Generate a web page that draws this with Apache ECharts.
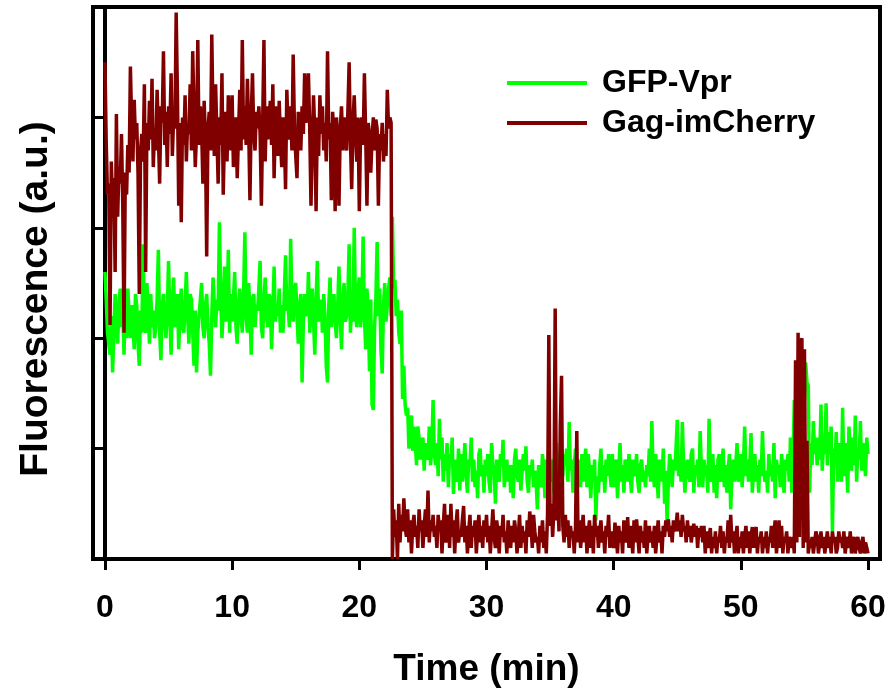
<!DOCTYPE html>
<html><head><meta charset="utf-8">
<script src="https://cdn.jsdelivr.net/npm/echarts@6/dist/echarts.min.js"></script>
<style>html,body{margin:0;padding:0;background:#fff}#c{width:891px;height:698px}</style>
</head><body><div id="c"></div>
<script>
// sampling grid (minutes)
const sampleStart = 0;
const sampleStep = 0.1;

// GFP-Vpr trace, values (a.u.), one row per minute
const gfpVpr = [
2.60,2.35,2.05,1.95,1.85,2.20,1.69,2.05,2.40,2.15,
1.95,2.30,2.45,2.10,2.25,1.85,2.35,2.00,2.45,2.20,
2.00,2.30,2.15,1.90,2.40,2.30,1.95,1.75,2.25,2.05,
2.85,2.15,2.05,2.50,2.25,1.95,2.40,2.10,2.25,2.00,
2.10,2.35,2.80,2.05,1.80,2.30,2.40,2.15,2.00,2.25,
2.70,2.20,1.85,2.35,2.55,2.10,2.15,2.40,1.90,2.25,
2.45,2.10,2.05,2.30,2.60,2.20,1.95,2.40,2.35,2.05,
1.75,2.25,1.69,2.05,2.20,2.35,2.50,2.10,2.00,2.30,
2.40,2.10,1.95,1.66,2.20,2.55,2.30,2.10,2.35,2.25,
3.05,2.40,2.00,2.25,2.65,2.15,2.30,2.80,2.05,2.40,
2.15,2.35,2.60,2.10,1.95,2.30,2.45,2.20,2.05,2.40,
2.96,2.20,2.05,2.50,2.25,1.85,2.35,2.40,2.10,2.30,
2.25,2.45,2.70,2.10,2.00,2.35,2.55,2.20,2.10,2.40,
2.35,1.90,2.25,2.65,2.15,2.30,2.20,2.45,2.05,2.30,
2.05,2.40,2.75,2.25,2.30,2.10,2.90,2.35,2.15,2.45,
2.50,2.20,1.95,2.30,2.40,1.60,2.15,2.40,2.25,2.20,
2.60,2.05,2.30,2.45,2.15,1.85,2.35,2.70,2.15,2.25,
2.35,2.05,2.40,2.20,1.75,1.60,2.30,2.55,2.10,2.25,
2.40,2.15,2.00,2.30,2.65,2.20,1.90,2.35,2.50,2.15,
2.20,2.40,2.85,2.05,2.30,2.15,3.00,2.25,2.10,2.45,
2.55,2.10,2.30,2.92,2.20,1.90,2.45,2.25,1.70,2.35,
1.40,1.35,2.10,2.35,2.87,2.20,2.45,1.90,1.68,2.30,
2.50,2.15,2.30,2.45,2.55,2.20,3.10,2.45,2.53,2.20,
2.35,2.05,1.95,2.25,1.45,1.75,1.40,1.30,1.37,1.00,
1.15,1.30,0.98,1.20,1.05,0.85,1.20,1.10,0.90,1.00,
1.10,0.80,1.05,0.95,0.90,1.20,0.85,1.00,1.44,0.95,
0.85,1.05,0.75,1.27,0.90,1.10,0.70,0.95,0.80,1.05,
0.65,0.95,0.85,1.10,0.59,0.90,0.80,0.70,1.00,0.62,
0.95,0.70,0.85,1.05,0.75,0.60,0.90,0.85,1.10,0.70,
0.90,0.65,0.80,0.55,0.95,1.00,0.75,0.85,0.60,0.90,
0.75,0.95,0.70,0.60,1.05,0.85,0.80,0.50,0.90,0.75,
0.70,0.95,0.85,1.08,0.65,0.80,0.90,0.70,0.85,0.60,
0.85,0.55,0.90,1.00,0.75,0.70,0.90,0.62,0.80,0.95,
0.80,1.02,0.70,0.60,0.85,0.75,0.90,0.65,0.80,0.70,
0.45,0.85,0.75,0.65,0.95,0.80,0.55,0.90,0.70,1.00,
0.80,0.70,0.90,0.60,0.85,1.05,0.75,0.95,0.65,0.85,
0.75,0.95,0.85,1.00,0.70,1.24,0.80,0.90,0.60,0.85,
1.00,0.75,0.90,0.80,0.65,0.95,0.70,0.85,1.00,0.65,
0.95,0.80,0.55,0.85,0.70,0.90,0.35,0.75,0.60,0.85,
1.00,0.70,0.85,0.60,0.90,0.75,0.95,0.80,0.65,0.95,
0.65,0.85,0.90,0.55,0.80,1.05,0.70,0.85,0.60,0.90,
0.85,0.70,0.95,0.75,0.60,0.90,0.80,0.75,0.95,0.70,
0.60,0.85,0.90,0.70,0.80,0.65,0.85,0.75,1.00,0.70,
1.25,0.80,0.65,0.95,0.75,0.55,0.90,0.85,0.70,1.00,
0.50,0.80,0.33,0.70,0.95,0.85,0.65,0.90,0.80,1.00,
1.26,0.75,0.90,0.70,1.24,0.85,0.60,0.80,0.90,0.75,
0.70,0.95,1.00,0.60,0.85,0.75,0.90,0.65,1.16,0.80,
0.65,0.90,0.75,0.85,0.60,1.27,0.80,0.70,0.95,0.60,
0.85,0.55,0.90,0.95,0.70,0.80,1.00,0.65,0.85,0.60,
0.80,0.95,0.45,0.75,0.90,0.70,0.85,1.05,0.70,0.80,
0.95,0.65,0.85,1.20,0.75,0.90,0.70,0.85,1.14,0.60,
0.80,0.95,0.70,0.85,0.60,0.90,0.75,1.16,0.80,0.70,
0.80,0.60,0.95,0.75,0.85,0.70,1.05,0.55,0.90,0.80,
0.85,0.65,0.95,0.75,0.60,0.90,0.80,0.95,0.70,1.10,
0.60,0.90,1.44,1.20,1.30,1.50,1.66,1.40,1.35,1.55,
1.45,1.78,1.60,1.57,0.60,1.05,0.85,1.25,0.95,1.10,
0.85,1.10,0.90,1.40,0.80,1.05,0.95,1.41,0.85,1.15,
0.95,1.20,0.25,1.00,0.85,1.15,0.70,1.05,0.90,0.70,
1.37,0.75,1.05,0.90,0.60,1.20,0.95,0.80,1.10,0.85,
1.30,0.70,1.00,0.90,1.25,0.80,1.05,0.95,0.75,1.10,
0.95
];

// Gag-imCherry trace, values (a.u.), one row per minute
const gagImCherry = [
4.50,3.77,3.30,3.40,2.12,3.60,3.20,3.45,2.60,4.03,
3.10,3.55,3.40,3.85,3.20,2.05,3.50,3.30,3.75,3.50,
4.46,3.95,3.60,4.16,3.80,3.95,3.50,2.40,3.70,3.85,
3.60,4.30,2.60,3.95,3.70,4.15,3.80,4.35,3.55,3.90,
3.70,4.25,3.85,3.40,4.10,3.95,4.60,3.75,4.05,3.55,
4.10,3.85,4.40,3.65,4.00,3.90,4.95,4.20,3.20,3.95,
3.05,4.00,3.75,4.20,3.60,3.95,3.85,4.30,3.70,4.60,
4.05,3.55,3.85,4.70,3.75,4.10,3.90,3.40,4.15,3.80,
2.74,3.90,4.05,3.70,4.75,3.95,3.65,4.30,3.85,3.40,
4.00,3.75,4.40,3.30,3.85,4.05,3.60,4.20,3.95,3.70,
4.20,3.55,3.90,4.00,3.45,3.85,4.25,3.70,4.70,3.80,
4.10,3.75,4.35,3.90,3.25,4.00,4.40,3.85,3.70,4.05,
3.90,4.10,3.85,3.20,3.95,4.70,3.60,4.10,3.80,3.95,
4.15,3.75,4.30,3.45,3.95,4.10,3.65,4.15,3.80,3.55,
4.00,3.85,3.35,4.25,3.90,3.80,4.10,3.70,4.57,3.90,
3.65,3.45,4.05,3.90,3.70,4.10,3.85,4.40,3.95,4.20,
4.40,3.90,3.20,3.75,4.20,3.85,3.15,4.00,3.65,4.20,
3.85,4.10,3.70,3.95,3.60,4.60,3.80,3.95,3.25,4.05,
3.85,3.15,4.00,3.80,3.20,3.90,4.10,3.70,4.00,3.85,
3.70,4.05,4.50,3.80,3.35,3.95,4.20,3.85,3.60,4.00,
3.15,3.90,4.00,3.75,4.40,3.85,3.20,3.95,3.85,3.50,
3.80,4.00,3.70,3.98,3.90,3.20,3.85,3.70,3.95,3.60,
3.85,3.65,4.25,3.90,4.00,3.95,0.00,0.45,0.20,0.35,
0.00,0.50,0.15,0.40,0.25,0.55,0.30,0.20,0.45,0.15,
0.35,0.05,0.30,0.40,0.20,0.30,0.10,0.45,0.25,0.35,
0.10,0.30,0.45,0.20,0.62,0.15,0.35,0.25,0.40,0.20,
0.30,0.10,0.40,0.25,0.35,0.05,0.30,0.50,0.15,0.25,
0.40,0.10,0.50,0.20,0.35,0.05,0.30,0.45,0.15,0.25,
0.20,0.35,0.48,0.15,0.30,0.05,0.25,0.40,0.10,0.30,
0.20,0.35,0.05,0.25,0.40,0.15,0.30,0.10,0.35,0.20,
0.40,0.15,0.30,0.05,0.25,0.45,0.20,0.10,0.35,0.25,
0.05,0.30,0.20,0.40,0.15,0.25,0.05,0.35,0.20,0.10,
0.30,0.15,0.35,0.25,0.05,0.20,0.40,0.10,0.30,0.15,
0.25,0.05,0.35,0.20,0.43,0.30,0.10,0.40,0.25,0.15,
0.20,0.05,0.30,0.15,0.35,0.10,0.25,0.05,0.40,2.03,
0.30,0.50,0.20,0.45,2.27,0.35,0.55,0.25,1.20,1.66,
0.30,0.15,0.40,0.20,0.35,0.10,0.30,0.20,0.25,0.05,
0.30,1.16,0.15,0.35,0.10,0.25,0.40,0.15,0.30,0.05,
0.25,0.35,0.10,0.30,0.05,0.40,0.20,0.30,0.10,0.25,
0.35,0.15,0.25,0.05,0.30,0.20,0.40,0.10,0.25,0.15,
0.10,0.33,0.20,0.05,0.30,0.15,0.25,0.05,0.35,0.20,
0.15,0.38,0.10,0.30,0.20,0.05,0.35,0.15,0.36,0.20,
0.05,0.30,0.15,0.25,0.10,0.35,0.05,0.20,0.30,0.15,
0.25,0.10,0.30,0.05,0.20,0.35,0.15,0.25,0.05,0.30,
0.20,0.35,0.25,0.36,0.20,0.30,0.15,0.35,0.25,0.30,
0.42,0.25,0.35,0.20,0.40,0.25,0.30,0.15,0.35,0.20,
0.30,0.15,0.25,0.32,0.20,0.30,0.10,0.28,0.20,0.30,
0.15,0.30,0.05,0.25,0.10,0.20,0.28,0.05,0.20,0.10,
0.25,0.05,0.20,0.15,0.30,0.10,0.25,0.05,0.20,0.15,
0.35,0.10,0.40,0.15,0.25,0.05,0.20,0.30,0.05,0.20,
0.10,0.25,0.05,0.20,0.30,0.10,0.25,0.05,0.20,0.29,
0.10,0.25,0.29,0.05,0.20,0.15,0.25,0.05,0.20,0.10,
0.25,0.05,0.20,0.15,0.30,0.10,0.25,0.35,0.05,0.20,
0.35,0.10,0.30,0.05,0.20,0.15,0.25,0.05,0.20,0.15,
0.10,0.20,0.05,1.80,0.15,2.05,0.20,1.95,2.00,0.10,
1.90,0.15,1.07,0.05,0.15,0.10,0.20,0.05,0.15,0.25,
0.20,0.05,0.15,0.25,0.10,0.20,0.05,0.15,0.25,0.10,
0.20,0.05,0.25,0.15,0.20,0.05,0.10,0.25,0.15,0.20,
0.10,0.25,0.05,0.15,0.20,0.10,0.25,0.05,0.15,0.20,
0.05,0.15,0.20,0.10,0.05,0.15,0.20,0.05,0.15,0.10,
0.05
];

const xTickValues = [0, 10, 20, 30, 40, 50, 60];
const seriesNames = ['GFP-Vpr', 'Gag-imCherry'];
const xAxisTitle = 'Time (min)';
const yAxisTitle = 'Fluorescence (a.u.)';

function toPairs(vals) {
  return vals.map((v, i) => [Math.round((sampleStart + i * sampleStep) * 100) / 100, v]);
}

const FONT = 'Liberation Sans, Arial, Helvetica, sans-serif';
const chart = echarts.init(document.getElementById('c'), null, {renderer: 'canvas'});
chart.setOption({
  animation: false,
  backgroundColor: '#fff',
  grid: {left: 93, right: 11, top: 7, bottom: 139, show: true, borderColor: '#000', borderWidth: 4, backgroundColor: 'transparent'},
  legend: {
    orient: 'vertical', left: 502, top: 62,
    icon: 'rect', itemWidth: 80, itemHeight: 4, itemGap: 8,
    textStyle: {fontSize: 32, fontWeight: 'bold', fontFamily: FONT, color: '#000', lineHeight: 32, padding: [0, 0, 0, 10]},
    data: seriesNames
  },
  xAxis: {
    type: 'value', min: -0.94, max: 60.94,
    name: xAxisTitle, nameLocation: 'middle', nameGap: 92,
    nameTextStyle: {fontSize: 37, fontWeight: 'bold', fontFamily: FONT, color: '#000'},
    axisLine: {show: true, lineStyle: {color: '#000', width: 4}},
    axisTick: {show: true, customValues: xTickValues, length: 11, inside: false, lineStyle: {color: '#000', width: 3}},
    axisLabel: {show: true, customValues: xTickValues, fontSize: 32, fontWeight: 'bold', fontFamily: FONT, color: '#000', margin: 33},
    splitLine: {show: false}
  },
  yAxis: {
    type: 'value', min: 0, max: 5, interval: 1,
    axisLine: {show: true, lineStyle: {color: '#000', width: 4}},
    axisTick: {show: true, length: 11, inside: false, lineStyle: {color: '#000', width: 3}},
    axisLabel: {show: false},
    splitLine: {show: false}
  },
  graphic: [{
    type: 'text', x: 36, y: 299, rotation: Math.PI / 2,
    style: {text: yAxisTitle, font: 'bold 39px ' + FONT, fill: '#000', textAlign: 'center', textVerticalAlign: 'middle'}
  }],
  series: [
    {name: seriesNames[0], type: 'line', data: toPairs(gfpVpr), symbol: 'none', showSymbol: false,
     color: '#00ff00', lineStyle: {color: '#00ff00', width: 3.5}, z: 2},
    {name: seriesNames[1], type: 'line', data: toPairs(gagImCherry), symbol: 'none', showSymbol: false,
     color: '#800000', lineStyle: {color: '#800000', width: 3.5}, z: 3}
  ]
});
</script></body></html>
